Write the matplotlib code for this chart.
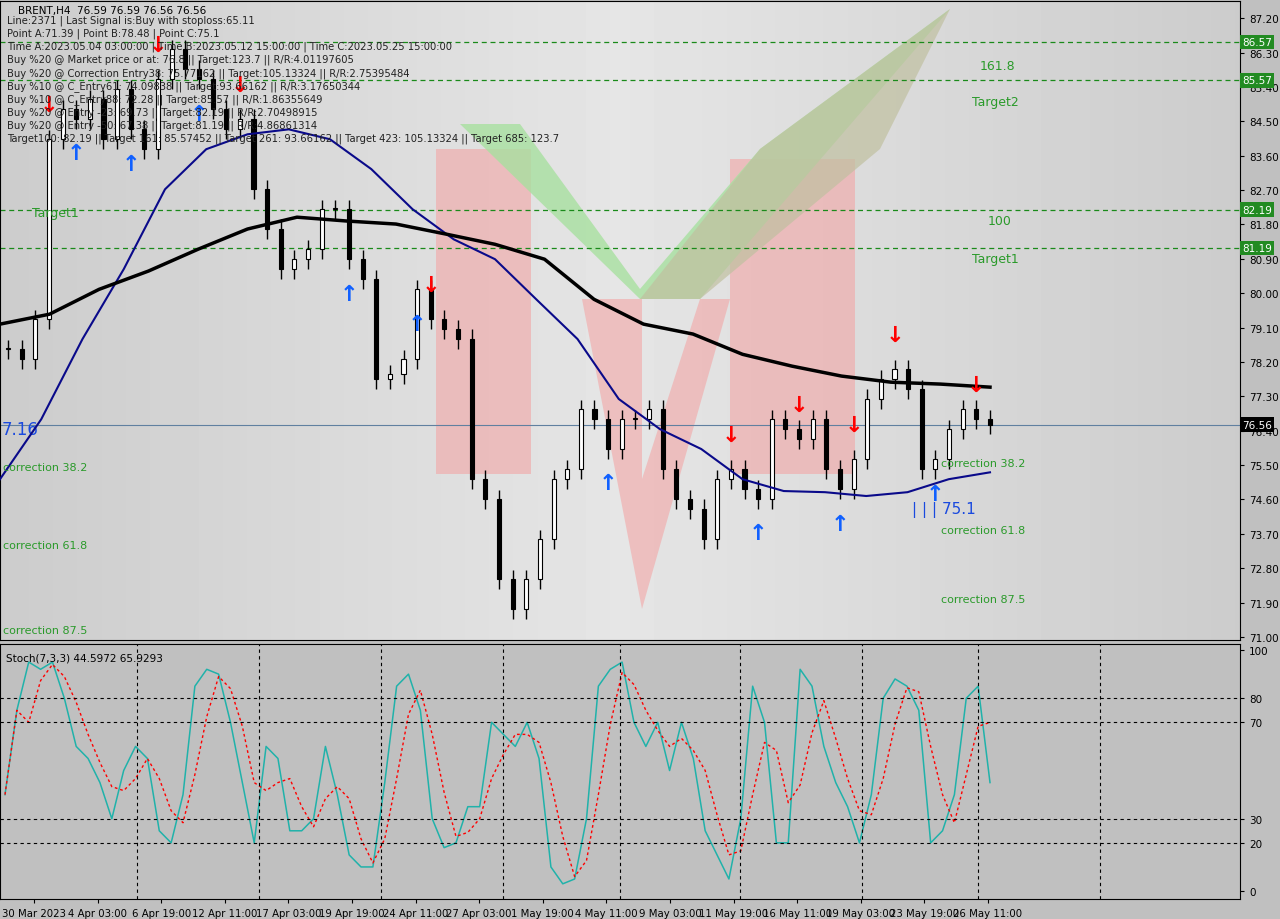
import numpy as np
import matplotlib.pyplot as plt
from matplotlib.patches import Polygon, Rectangle

# ---- data ----
closes = [78.53, 78.27, 79.32, 84.03, 84.82, 84.56, 85.08, 84.03, 85.34, 84.29, 83.77, 85.6,
          86.39, 85.86, 85.6, 84.82, 84.29, 84.56, 82.72, 81.68, 80.63, 80.89, 81.15, 82.2,
          82.2, 80.89, 80.37, 77.75, 77.88, 78.27, 80.1, 79.32, 79.06, 78.8, 75.13, 74.61,
          72.51, 71.73, 72.51, 73.56, 75.13, 75.39, 76.96, 76.7, 75.92, 76.7, 76.7, 76.96,
          75.39, 74.61, 74.35, 73.56, 75.13, 75.39, 74.87, 74.61, 76.7, 76.44, 76.18, 76.7,
          75.39, 74.87, 75.65, 77.23, 77.75, 78.01, 77.49, 75.39, 75.65, 76.44, 76.96, 76.7, 76.56]
ma_fast = [75.13, 76.7, 78.8, 80.63, 82.72, 83.77, 84.16, 84.29, 84.03, 83.25, 82.2, 81.41,
           80.89, 79.84, 78.8, 77.23, 76.44, 75.92, 75.13, 74.82, 74.79, 74.69, 74.79, 75.13, 75.31]
ma_slow = [79.19, 79.45, 80.1, 80.58, 81.15, 81.68, 81.99, 81.89, 81.81, 81.55, 81.28, 80.89,
           79.84, 79.19, 78.93, 78.4, 78.09, 77.83, 77.67, 77.62, 77.54]
stoch_k = [40, 75, 95, 92, 95, 80, 60, 55, 45, 30, 50, 60, 55, 25, 20, 40, 85, 92, 90, 70, 45,
           20, 60, 55, 25, 25, 30, 60, 40, 15, 10, 10, 45, 85, 90, 75, 30, 18, 20, 35, 35, 70,
           65, 60, 70, 55, 10, 3, 5, 30, 85, 92, 95, 70, 60, 70, 50, 70, 55, 25, 15, 5, 30, 85,
           70, 20, 20, 92, 85, 60, 45, 35, 20, 40, 80, 88, 85, 75, 20, 25, 40, 80, 85, 45]
levels = [86.57, 85.57, 82.19, 81.19]
last_price = 76.56
up_signals = [5, 9, 14, 25, 30, 44, 55, 61, 68]
down_signals = [3, 11, 17, 31, 53, 58, 62, 65, 71]
date_labels = ['30 Mar 2023', '4 Apr 03:00', '6 Apr 19:00', '12 Apr 11:00', '17 Apr 03:00',
               '19 Apr 19:00', '24 Apr 11:00', '27 Apr 03:00', '1 May 19:00', '4 May 11:00',
               '9 May 03:00', '11 May 19:00', '16 May 11:00', '19 May 03:00', '23 May 19:00',
               '26 May 11:00']
header = ["Line:2371 | Last Signal is:Buy with stoploss:65.11",
          "Point A:71.39 | Point B:78.48 | Point C:75.1",
          "Time A:2023.05.04 03:00:00 | Time B:2023.05.12 15:00:00 | Time C:2023.05.25 15:00:00",
          "Buy %20 @ Market price or at: 76.8 || Target:123.7 || R/R:4.01197605",
          "Buy %20 @ Correction Entry38: 75.77162 || Target:105.13324 || R/R:2.75395484",
          "Buy %10 @ C_Entry61: 74.09838 || Target:93.66162 || R/R:3.17650344",
          "Buy %10 @ C_Entry88: 72.28 || Target:85.57 || R/R:1.86355649",
          "Buy %20 @ Entry -23: 69.73 || Target:82.19 || R/R:2.70498915",
          "Buy %20 @ Entry -50: 67.38 || Target:81.19 || R/R:4.86861314",
          "Target100: 82.19 || Target 161: 85.57452 || Target 261: 93.66162 || Target 423: 105.13324 || Target 685: 123.7"]

fig = plt.figure(figsize=(12.8, 9.2), dpi=100)
fig.patch.set_facecolor('#c0c0c0')

# background / watermark layer in pixel coords
bg = fig.add_axes([0, 0, 1, 1], zorder=0)
bg.set_xlim(0, 1280)
bg.set_ylim(920, 0)
bg.axis('off')
grad = 0.90 - 0.10 * np.abs(np.linspace(-1, 1, 256))[None, :]
bg.imshow(grad, cmap='gray', vmin=0, vmax=1, extent=(0, 1240, 641, 2), aspect='auto')
bg.add_patch(Rectangle((436, 150), 95, 325, color='#f4a0a0', alpha=0.55, lw=0))
bg.add_patch(Rectangle((730, 160), 125, 315, color='#f4a0a0', alpha=0.55, lw=0))
bg.add_patch(Polygon([(582, 300), (642, 300), (642, 480), (700, 300), (730, 300), (642, 610)],
                     color='#f4a0a0', alpha=0.55, lw=0))
bg.add_patch(Polygon([(460, 125), (520, 125), (640, 290), (760, 150), (950, 10), (700, 300),
                      (640, 300)], color='#a8e0a0', alpha=0.8, lw=0))
bg.add_patch(Polygon([(640, 300), (760, 150), (950, 10), (880, 150), (700, 300)],
                     color='#c0c0a0', alpha=0.7, lw=0))
bg.add_patch(Rectangle((0, 643), 1240, 258, color='#c0c0c0', lw=0))

XMAX = 1240
ax = fig.add_axes([0, 1 - 641 / 920, XMAX / 1280, 639 / 920], zorder=1)
ax.set_facecolor('none')
ax.set_xlim(0, XMAX)
ax.set_ylim(70.92, 87.65)

n = len(closes)
xs = np.linspace(8, 990, n)
w = (xs[1] - xs[0]) * 0.3
prev = closes[0]
for x, c in zip(xs, closes):
    o = prev
    lo, hi = min(o, c), max(o, c)
    ax.vlines(x, lo - 0.25, hi + 0.25, color='black', lw=1, zorder=3)
    ax.add_patch(Rectangle((x - w / 2, lo), w, max(hi - lo, 0.03),
                           facecolor='white' if c >= o else 'black', edgecolor='black',
                           lw=0.8, zorder=4))
    prev = c

ax.plot(np.linspace(0, 990, len(ma_fast)), ma_fast, color='#0a0a8a', lw=1.5, zorder=5)
ax.plot(np.linspace(0, 990, len(ma_slow)), ma_slow, color='black', lw=2.5, zorder=5)

for i in up_signals:
    ax.text(xs[i], closes[i] - 0.9, '\u2191', color='#1060ff', fontsize=16, fontweight='bold',
            ha='center', va='center', zorder=6)
for i in down_signals:
    ax.text(xs[i], closes[i] + 0.9, '\u2193', color='red', fontsize=16, fontweight='bold',
            ha='center', va='center', zorder=6)

for lv in levels:
    ax.axhline(lv, color='#1a8a1a', ls=(0, (4, 3)), lw=0.9)
    ax.text(1.002, lv, f'{lv:.2f}', transform=ax.get_yaxis_transform(), color='white',
            fontsize=7.5, va='center', bbox=dict(fc='#228b22', ec='none', pad=1.5))
ax.axhline(last_price, color='#6080a0', lw=0.8)
ax.text(1.002, last_price, f'{last_price:.2f}', transform=ax.get_yaxis_transform(),
        color='white', fontsize=7.5, va='center', bbox=dict(fc='black', ec='none', pad=1.5))

g = '#2a9a2a'
for txt, x, y, fs in [('161.8', 997, 85.95, 9), ('Target2', 995, 85.02, 9), ('100', 1000, 81.9, 9),
                      ('Target1', 995, 80.9, 9), ('Target1', 55, 82.1, 9),
                      ('correction 38.2', 45, 75.44, 8), ('correction 38.2', 983, 75.55, 8),
                      ('correction 61.8', 45, 73.4, 8), ('correction 61.8', 983, 73.8, 8),
                      ('correction 87.5', 45, 71.18, 8), ('correction 87.5', 983, 72.0, 8)]:
    ax.text(x, y, txt, color=g, fontsize=fs, ha='center', va='center', zorder=7)
ax.text(2, 76.44, '7.16', color='#1a4adf', fontsize=12, va='center')
ax.text(912, 74.35, '| | | 75.1', color='#1a4adf', fontsize=11, va='center')

ax.text(18, 87.55, 'BRENT,H4  76.59 76.59 76.56 76.56', fontsize=7.5, va='top')
for k, line in enumerate(header):
    ax.text(7, 87.3 - k * 0.345, line, fontsize=7.2, color='#222222', va='top', zorder=8)

ticks = [87.20, 86.30, 85.40, 84.50, 83.60, 82.70, 81.80, 80.90, 80.00, 79.10, 78.20, 77.30,
         76.40, 75.50, 74.60, 73.70, 72.80, 71.90, 71.00]
ax.yaxis.tick_right()
ax.set_yticks(ticks)
ax.set_yticklabels([f'{t:.2f}' for t in ticks], fontsize=7.5)
ax.set_xticks([])
ax.tick_params(axis='y', length=3)

# stochastic panel
sx = fig.add_axes([0, 20 / 920, XMAX / 1280, 255 / 920], zorder=1)
sx.set_facecolor('#c0c0c0')
sx.set_xlim(0, XMAX)
sx.set_ylim(-3.3, 102.5)
kx = np.linspace(5, 990, len(stoch_k))
sig = np.convolve(stoch_k, np.ones(3) / 3, mode='full')[:len(stoch_k)]
sig[:2] = stoch_k[:2]
sx.plot(kx, stoch_k, color='#20b2aa', lw=1.1)
sx.plot(kx, sig, color='red', lw=1, ls=(0, (2, 2)))
for lv in [80, 70, 30, 20]:
    sx.axhline(lv, color='black', ls=(0, (3, 3)), lw=0.8)
for vx in [137, 259, 381, 503, 620, 740, 862, 978, 1100]:
    sx.axvline(vx, color='black', ls=(0, (3, 3)), lw=0.8)
sx.text(6, 99, 'Stoch(7,3,3) 44.5972 65.9293', fontsize=7.5, va='top')
sx.yaxis.tick_right()
sx.set_yticks([0, 20, 30, 70, 80, 100])
sx.set_yticklabels(['0', '20', '30', '70', '80', '100'], fontsize=7.5)
date_x = np.linspace(34, 988, len(date_labels))
sx.set_xticks(date_x)
sx.set_xticklabels(date_labels, fontsize=7.3)
sx.tick_params(length=3)

fig.savefig('out.png', dpi=100, facecolor=fig.get_facecolor())
